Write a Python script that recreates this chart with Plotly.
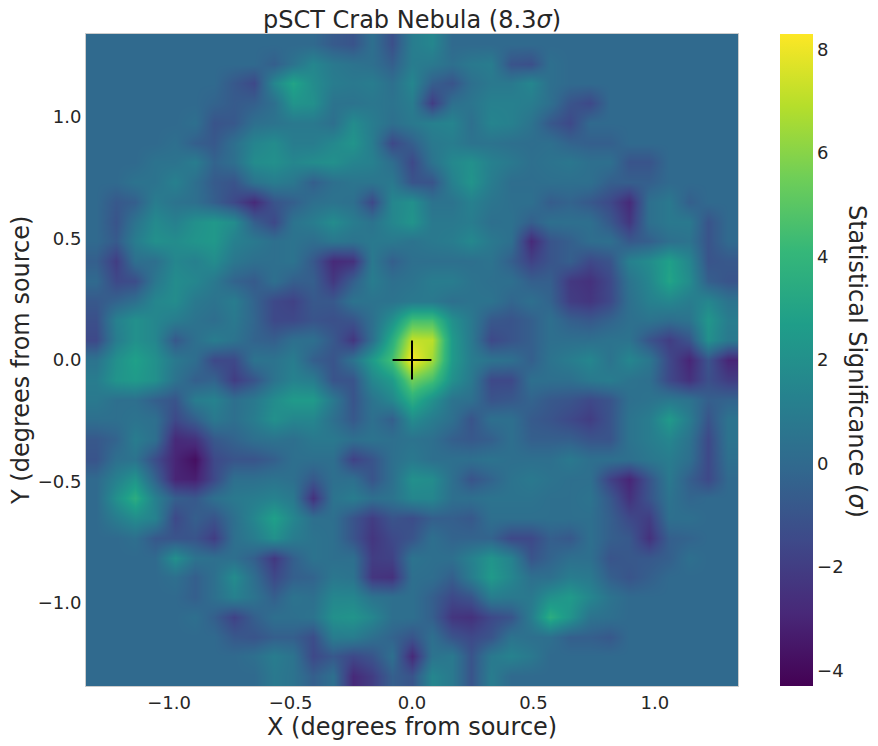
import plotly.graph_objects as go

# Map values: each row lists (first filled column, values); all else is 0.
N_CELLS = 33
AXIS_MAX = 1.342
y_ticks = [-1.0, -0.5, 0.0, 0.5, 1.0]
x_ticks = [-1.0, -0.5, 0.0, 0.5, 1.0]
cbar_ticks = [-4, -2, 0, 2, 4, 6, 8]
cross_x = [-0.08, 0.08, None, 0, 0]
cross_y = [0, 0, None, -0.08, 0.08]

row_starts = [12, 9, 7, 6, 5, 4, 3, 2, 1, 1, 1, 0, 1, 0, 0, 0,
              0, 0, 0, 0, 0, 0, 1, 1, 1, 2, 4, 4, 5, 5, 7, 8, 9]
row_values = [
 [-0.7,-1,0.3,-1.2,1,1.5],
 [-0.5,0.5,1.5,0.8,0.5,0.3,-0.5,1,0.8,0.3,0.8,1.0,-1,-1.2,0.3],
 [-0.8,-1.5,1.5,3,1.8,1,0.8,1,0.3,1.5,-0.5,-1,0.3,0.8,0.8,1.5,0.3],
 [-0.3,-0.7,-0.5,0.3,2.2,2,0.5,0.5,0.7,0.5,1,-2,0.3,0.6,1.2,1.2,1,0.3,-1,-1.5],
 [0.3,-1,-0.8,0.3,0.5,0.8,0.8,0.3,1.8,1,0.3,0.8,1.2,1.4,0.3,1.4,1.2,0.5,-0.8,-1.5],
 [0.3,-0.5,-0.8,0.3,1.4,1.8,1,1,1.6,2.2,1,-1.5,-0.5,0.8,1,0.5,0.5,0.3,0.2,0.3,-0.3,-0.5,-0.5],
 [0.5,0.5,1,-0.3,0.3,1.8,2,1.5,1.8,2,1.4,1.2,0.2,-1.5,0.5,1.6,2,1.2,0.8,0.3,0.5,0.7,0.3,0.3,-1,-1],
 [0.5,0.5,1.2,0.3,-0.7,-1,0.5,1,0.7,-0.5,0.3,0.6,0.6,0.8,-1,-1,1.2,2.2,1,0.2,0.2,0.3,0.3,0.3,-0.5,-0.5,-0.5],
 [-0.8,-0.5,1,0.5,0.3,-0.5,-1.5,-2.8,-1,-0.5,0.3,0.5,0.3,-1.5,1.5,2,0.5,0.5,1.2,0.6,0.3,0.3,-0.6,-0.3,-0.8,-1.5,-2.8,0.3,0.8,-0.5],
 [-1,0.5,1.7,1.2,2,2.4,1.8,-0.5,-1.5,0.5,1,1.8,1,0.5,1.5,2.2,0.8,0.8,1,0.3,0.4,-0.5,0.3,0.3,0.3,-0.8,-2.3,0.3,0.8,0.8,-1],
 [-0.7,1,2,1.8,2.2,2.4,1.2,0.8,0.3,0.5,0.2,0.7,0.5,0.8,0.8,0.5,0.8,1,1.6,0.8,0.3,-2.8,-1,-0.5,0.2,0.3,-0.8,-0.5,0.3,0.5,-1],
 [-0.5,-2,0.3,0.3,1.5,1.2,1.8,0.7,0.3,0.3,0.5,-0.8,-2.8,-2.5,0.8,-0.5,0.3,0.3,0.3,0.3,0.5,-0.5,-1.8,-1,-0.5,-1.5,-1,1.2,1.8,2.8,1.5,-1,-0.8],
 [-1.5,-1.3,0.7,1.8,1.5,0.8,-0.3,-0.7,0.3,-0.5,-0.5,-2.2,-0.5,1,0.3,0.5,1,1,0.5,0.3,0.3,-0.5,-0.5,-2.2,-2.5,-1.5,0.5,1.5,3,1.8,-0.5,-1],
 [-0.8,-0.3,0.3,1.5,1.8,0.8,0.5,1,-0.3,-1.5,-1.8,-0.8,-0.8,0.5,0.5,0.5,0.8,0.8,0.3,0.5,0.5,-0.2,0.3,-0.3,-2,-2.3,-1.5,0.3,1.2,1.5,1,1.5,0.5],
 [-1.2,1.2,2,1.5,1,0.5,0.2,0.8,-0.2,-1.5,-1.5,-1,-1.2,-1,0.3,2,4.5,4.5,2,0.8,-0.8,-1,-0.5,0.3,-0.5,-0.8,-0.3,0.3,0.5,0.2,0.5,2.3,1],
 [-1.5,1,2,1.5,-0.8,0.3,1,0.5,-0.3,-0.5,0.3,0.3,-0.8,-2.3,0.3,3.5,7.2,7,2.5,0.8,-1.5,-1,-0.5,0.3,0.3,0.3,0.5,0.5,-1,-2,-1,2,0.8],
 [0.5,2,2.8,2,0.8,0.2,-1.5,-1.5,0.5,0.5,1,-0.5,-1,0.5,2.5,4.5,8.3,6.5,2.5,1,0.5,0.3,-0.5,0.5,1,1.5,0.5,1.5,0.7,-1.5,-3,-1,-3],
 [1,2.2,2.5,2,0.5,-0.5,-0.3,-2,-1,0.5,1.3,1,-1,-1,1.5,2.5,5.5,4.5,2,0.8,-1.5,-1.5,0.3,0.3,0.3,0.8,1,0.5,0.3,-1.5,-2.5,-1.2,-2],
 [0.8,0.3,0.3,-0.5,-1,1,1.3,0.3,0.8,1.8,2.5,2.5,0.8,-1,0.5,1.5,3.5,2,0.5,0.3,-1,-0.8,-0.3,-0.8,-1,-1.5,-1,0.3,0.5,0.8,0.5,-0.5,-0.3],
 [0.3,0.3,0.5,0.3,-1.5,-0.5,0.8,0.3,1,2,1.5,1.5,0.3,-0.8,0.3,-0.5,1.8,1,0.3,-1,0.3,0.3,-0.7,-1,-1.5,-2,-1,0.5,1,2.5,1,-1,0.5],
 [-0.8,-0.3,1,0.3,-2.8,-2.5,-0.8,-0.3,0.3,0.5,0.3,0.8,0.8,0.3,0.5,0.3,0.5,0.3,-0.5,-0.8,-0.5,0.3,-0.5,-0.5,-0.5,-1,-1,0.5,1,1.5,0.5,-1.5,0.5],
 [-1,0.3,0.5,-1.3,-3,-3.8,-1.5,-1,-1,-0.5,0.3,0.3,0.3,-1.8,-1,0.3,0.8,0.3,0.3,0.3,0.5,0.3,0.3,0.3,0.8,0.3,0.3,0.3,0.7,1,0.3,-1.5,0.3],
 [1.2,2.2,-0.3,-3,-3.2,-1.5,0.3,0.3,0.5,0.3,-0.8,0.3,0.3,-1,0.3,2,1.8,0.3,-1,-0.3,0.5,0.8,0.5,0.3,0.3,-1.8,-3,-1,0.8,-0.5,-1.5],
 [2,3.5,1.2,-0.5,-0.8,0.3,0.8,1,1.3,0.8,-2.5,0.5,1,0.3,0.5,1.5,1.5,0.3,0.3,0.5,0.5,0.5,0.3,0.3,0.5,-0.8,-2.5,-1,0.5,-0.2],
 [1,1.8,1.3,-1.5,-0.5,-1,0.3,1.5,2.8,1.5,0.3,0.3,-1,-2,-1,-1.3,-0.5,-0.5,-0.8,0.3,0.3,0.3,0.3,0.3,0.3,-0.5,-1.5,-2,0.3,0.3],
 [0.3,-0.8,-1,-1,-2,0.3,1,2,1,0.5,0.3,-1,-2.3,-1.5,-1,0.3,-0.3,-0.3,-0.3,-1.5,-1.5,-0.5,-0.8,0.3,-0.5,-0.8,-2.5,-0.5,-0.3],
 [2,0.5,0.3,0.3,-0.5,-2.2,-0.5,0.5,0.3,0.3,-2,-1.8,0.5,0.3,0.3,1.2,2.2,1.3,-1,-0.3,0.3,0.3,-1,-0.8,-0.8,-0.5,0.3],
 [0.3,-0.5,0.3,1.8,0.2,-1.5,-0.5,-0.3,0.7,0.5,-2.3,-2.5,0.3,0.2,-0.5,1,2.5,1.5,0.3,0.3,1,0.8,-0.5,-1,-0.5],
 [-0.5,0.3,1.2,0.5,-0.5,0.5,0.3,1.5,1.5,0.5,0.3,0.3,-0.5,-1.5,-1,1,0.8,0.8,2,2.5,1.5,0.5],
 [0.3,-0.5,-1.8,-0.5,0.3,0.3,0.5,2,2.2,1.5,0.3,0.3,-0.5,-2.3,-2.5,-1.5,-1,1,3.5,2.2,0.5,0.3],
 [-0.8,-1,-0.5,-0.5,-1.3,1,1,0.3,-0.3,-1,0.3,-1,-1.5,-1,0.5,0.3,0.3,-0.5,-0.5,-0.8],
 [0.3,1,0.5,-1.5,-0.8,-1.5,-1,0.3,-2.8,0.5,0.8,-1,0.8,1.3,0.8],
 [0.8,0.5,-0.5,0.3,-2.8,-2,-0.5,-1,1.5,0.8,-1,1],
]

z = []
for start, vals in zip(row_starts, row_values):
    row = [0.0] * start + list(vals)
    row += [0.0] * (N_CELLS - len(row))
    z.append(row[:N_CELLS])

step = 2 * AXIS_MAX / N_CELLS
centers_x = [-AXIS_MAX + step * (i + 0.5) for i in range(N_CELLS)]
centers_y = [AXIS_MAX - step * (i + 0.5) for i in range(N_CELLS)]

FONT = "DejaVu Sans"
INK = "#262626"
fig = go.Figure()
fig.add_trace(go.Heatmap(
    x=centers_x, y=centers_y, z=z, colorscale="Viridis", zmin=-4.3, zmax=8.3,
    zsmooth="best", hoverinfo="skip",
    colorbar=dict(
        x=1.0644, xanchor="left", xpad=0, y=0.5, yanchor="middle", len=1, lenmode="fraction",
        ypad=0, thickness=33, thicknessmode="pixels", outlinewidth=0, ticks="", tickvals=cbar_ticks,
        tickfont=dict(family=FONT, size=18, color=INK),
    ),
))
fig.add_trace(go.Scatter(x=cross_x, y=cross_y, mode="lines", line=dict(color="black", width=2),
                         showlegend=False, hoverinfo="skip"))

axis_common = dict(
    range=[-AXIS_MAX, AXIS_MAX], showgrid=False, zeroline=False, ticks="", showline=True, mirror=True,
    linecolor="#cccccc", linewidth=1, tickfont=dict(family=FONT, size=18, color=INK),
)
fig.update_layout(
    width=870, height=740, autosize=False,
    margin=dict(l=78, r=140, t=26, b=62, pad=0),
    paper_bgcolor="white", plot_bgcolor="#31688e",
    title=dict(text="pSCT Crab Nebula (8.3<i>σ</i>)", x=404 / 870, xanchor="center",
               y=1 - 12 / 740, yanchor="middle", font=dict(family=FONT, size=24, color=INK)),
    xaxis=dict(tickvals=x_ticks, ticktext=["−1.0", "−0.5", "0.0", "0.5", "1.0"], **axis_common),
    yaxis=dict(tickvals=y_ticks, ticktext=["−1.0", "−0.5", "0.0", "0.5", "1.0"], **axis_common),
    annotations=[
        dict(text="Statistical Significance (<i>σ</i>)", xref="paper", yref="paper",
             x=1.1825, y=0.497, xanchor="center", yanchor="middle", textangle=90, showarrow=False,
             font=dict(family=FONT, size=24, color=INK)),
        dict(text="Y (degrees from source)", xref="paper", yref="paper",
             x=-0.0997, y=0.5, xanchor="center", yanchor="middle", textangle=-90, showarrow=False,
             font=dict(family=FONT, size=24, color=INK)),
        dict(text="X (degrees from source)", xref="paper", yref="paper",
             x=0.5, y=-0.063, xanchor="center", yanchor="middle", showarrow=False,
             font=dict(family=FONT, size=24, color=INK)),
    ],
)
fig.write_html("out.html")
